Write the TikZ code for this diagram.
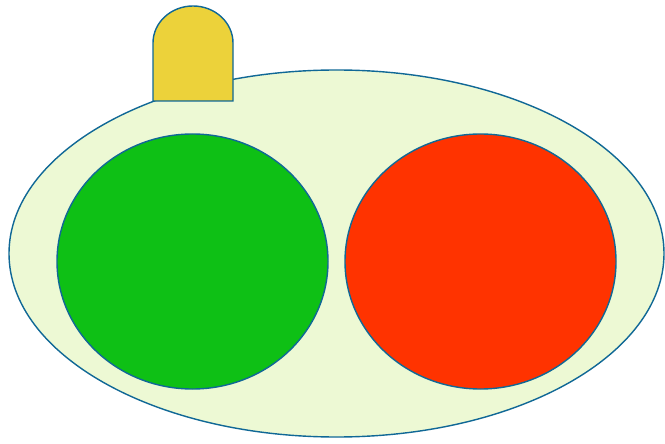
\documentclass[tikz,border=0pt]{standalone}
\usepackage{tikz}
\definecolor{outlineblue}{RGB}{16, 104, 150}
\definecolor{panelgreen}{RGB}{237, 249, 212}
\definecolor{lampgreen}{RGB}{14, 192, 21}
\definecolor{lampred}{RGB}{255, 51, 0}
\definecolor{capyellow}{RGB}{236, 210, 58}
\tikzset{
  shell/.style={draw=outlineblue, line width=0.8pt},
}
\begin{document}
\begin{tikzpicture}[x=0.02cm, y=0.02cm]

	% Fix the frame to the reference size
	\useasboundingbox (0, 0) rectangle (665, 443);

	% --- Outer body ---
	\draw[shell, fill=panelgreen] (336.5, 189.5) ellipse [x radius=327.5, y radius=183.5];

	% --- Green lamp ---
	\draw[shell, fill=lampgreen] (192.5, 181.5) ellipse [x radius=135.5, y radius=127.5];

	% --- Red lamp ---
	\draw[shell, fill=lampred] (480.5, 181.5) ellipse [x radius=135.5, y radius=127.5];

	% --- Yellow cap on top ---
	\draw[shell, fill=capyellow] (153, 342) -- (153, 400)
		arc[start angle=180, end angle=0, x radius=40, y radius=37] -- (233, 342) -- cycle;

\end{tikzpicture}
\end{document}
